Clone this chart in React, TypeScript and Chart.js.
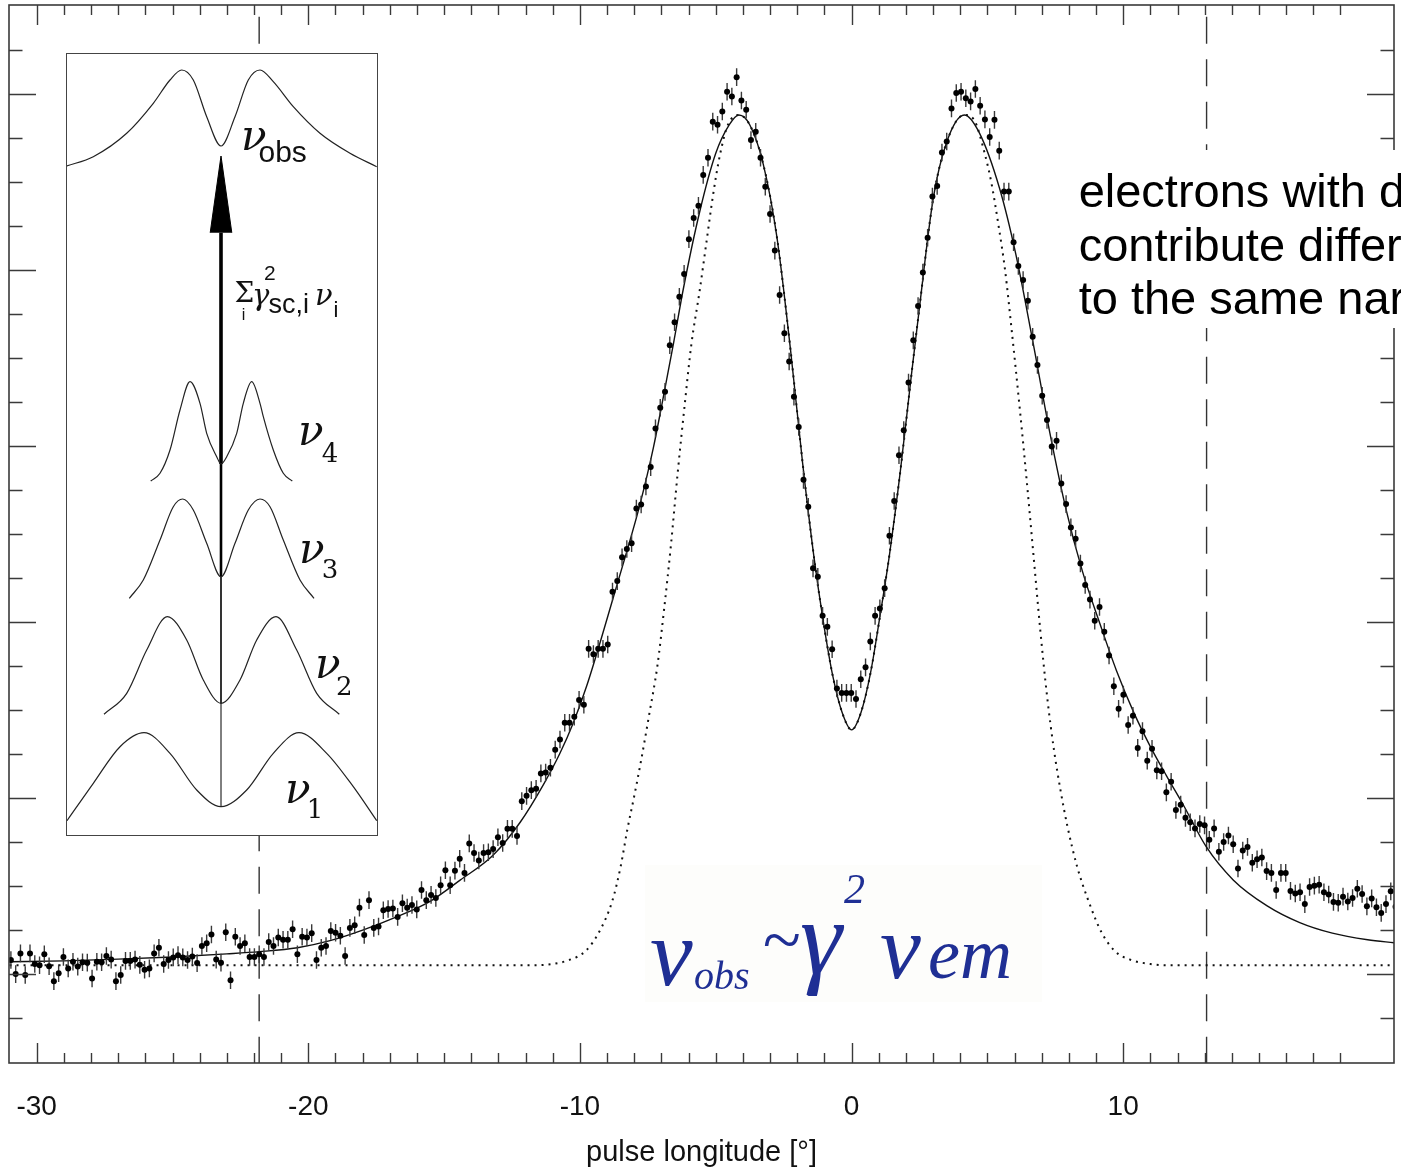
import React, { useEffect, useRef } from 'react';
import { Chart, registerables } from 'chart.js';

Chart.register(...registerables);

// ---------------- main profile (pulse longitude in degrees, arbitrary intensity) ----------------
const LON_START = -30.95; // centre of first phase bin
const LON_STEP = 360 / 2048; // bin width
const INTENSITY = [
  0.32, 0.0, 0.47, -0.02, 0.47, 0.23, 0.2, 0.45, 0.18, -0.16,
  0.02, 0.39, 0.13, 0.28, 0.17, 0.27, 0.26, -0.1, 0.28, 0.27,
  0.41, 0.33, -0.16, -0.02, 0.3, 0.3, 0.33, 0.21, 0.1, 0.13,
  0.47, 0.6, 0.23, 0.32, 0.38, 0.43, 0.38, 0.32, 0.4, 0.25,
  0.64, 0.7, 0.9, 0.33, 0.26, 0.95, -0.14, 0.85, 0.64, 0.7,
  0.39, 0.39, 0.45, 0.39, 0.73, 0.64, 0.83, 0.78, 0.78, 1.02,
  0.45, 0.85, 0.83, 0.93, 0.32, 0.6, 0.64, 0.98, 0.94, 0.87,
  0.41, 1.05, 1.11, 1.51, 0.89, 1.68, 1.05, 1.08, 1.45, 1.48,
  1.49, 1.3, 1.61, 1.51, 1.57, 1.47, 1.91, 1.68, 1.8, 1.73,
  2.02, 2.36, 2.02, 2.35, 2.62, 2.3, 2.97, 2.75, 2.58, 2.75,
  2.77, 2.84, 3.11, 2.98, 3.3, 3.3, 3.14, 3.93, 4.05, 4.18,
  4.21, 4.56, 4.58, 4.69, 5.1, 5.33, 5.71, 5.71, 5.85, 6.23,
  6.12, 7.39, 7.27, 7.39, 7.39, 7.49, 8.69, 8.93, 9.47, 9.66,
  9.79, 10.58, 10.67, 11.08, 11.52, 12.4, 12.87, 13.23, 14.29, 14.81,
  15.39, 15.91, 16.7, 17.18, 17.46, 18.16, 18.55, 19.37, 19.3, 19.6,
  20.05, 19.94, 20.38, 19.85, 19.64, 18.95, 19.14, 18.55, 17.89, 17.27,
  16.44, 15.43, 14.56, 13.92, 13.12, 12.43, 11.23, 10.62, 9.22, 9.03,
  8.14, 7.89, 7.38, 6.49, 6.39, 6.39, 6.39, 6.25, 6.7, 6.97,
  7.56, 8.14, 8.31, 8.77, 9.96, 10.75, 11.79, 12.36, 13.44, 14.4,
  15.18, 15.94, 16.73, 17.67, 17.91, 18.67, 18.92, 19.67, 20.02, 20.05,
  19.9, 19.83, 20.11, 19.73, 19.42, 19.02, 19.41, 18.71, 17.78, 17.78,
  16.63, 16.09, 15.77, 15.3, 14.48, 13.84, 13.14, 12.59, 11.99, 12.12,
  11.15, 10.68, 10.15, 9.89, 9.33, 8.84, 8.51, 8.03, 8.34, 7.78,
  7.24, 6.54, 6.03, 6.35, 5.66, 5.87, 5.14, 5.52, 4.85, 5.12,
  4.63, 4.61, 4.13, 4.37, 3.73, 3.85, 3.55, 3.45, 3.31, 3.41,
  3.38, 3.05, 3.31, 2.78, 3.0, 3.15, 2.95, 2.4, 2.81, 2.89,
  2.53, 2.61, 2.65, 2.34, 2.3, 1.91, 2.3, 2.3, 1.89, 1.83,
  1.86, 1.59, 1.98, 2.01, 2.03, 1.86, 1.81, 1.64, 1.62, 1.76,
  1.65, 1.73, 1.94, 1.82, 1.54, 1.72, 1.52, 1.39, 1.59, 1.88,
  1.53,
];
const ERROR_HALF = 0.2;

// solid fitted profile
const FIT_LON = [
  -31, -29, -27, -25, -23, -21.8, -20.4, -19.2, -18, -16.75,
  -15.5, -14.4, -13.2, -12.2, -11.35, -10.75, -10.25, -9.75, -9.25, -8.8,
  -8.3, -7.8, -7.3, -6.95, -6.55, -6.2, -5.6, -5.0, -4.5, -4.15,
  -3.75, -3.25, -2.75, -2.25, -1.8, -1.4, -1.05, -0.7, -0.35, 0,
  0.35, 0.7, 1.05, 1.4, 1.8, 2.2, 2.5, 3.0, 3.5, 4.15,
  4.7, 5.45, 6.05, 6.65, 7.3, 7.9, 8.5, 9.15, 9.75, 10.4,
  11.0, 11.6, 12.2, 13.05, 14.05, 15.3, 16.5, 17.7, 19.0, 20.0,
];
const FIT_VAL = [
  0.28, 0.3, 0.34, 0.39, 0.46, 0.51, 0.6, 0.76, 1.0, 1.3,
  1.66, 2.14, 2.7, 3.45, 4.3, 5.0, 5.7, 6.55, 7.55, 8.5,
  9.55, 10.65, 11.95, 13.05, 14.35, 15.55, 17.3, 18.65, 19.3, 19.52,
  19.3, 18.4, 16.75, 14.2, 11.6, 9.55, 8.05, 6.8, 5.95, 5.55,
  5.95, 6.85, 8.15, 9.55, 11.45, 13.6, 15.15, 17.6, 18.9, 19.52,
  19.12, 17.85, 16.35, 14.45, 12.3, 10.55, 9.15, 7.95, 6.9, 5.93,
  5.17, 4.5, 3.86, 2.9, 2.14, 1.55, 1.17, 0.93, 0.78, 0.71,
];

// dotted intrinsic profile
const MODEL_LON = [
  -31, -11.8, -11.0, -10.4, -9.8, -9.3, -8.8, -8.5, -8.25, -8.0,
  -7.75, -7.45, -7.15, -6.9, -6.65, -6.4, -6.15, -5.9, -5.6, -5.35,
  -5.1, -4.85, -4.55, -4.15, -3.75, -3.25, -2.75, -2.25, -1.8, -1.4,
  -1.05, -0.7, -0.35, 0, 0.35, 0.7, 1.05, 1.4, 1.8, 2.2,
  2.5, 3.0, 3.5, 4.15, 4.5, 4.9, 5.15, 5.4, 5.65, 5.9,
  6.2, 6.45, 6.7, 6.95, 7.2, 7.45, 7.7, 7.95, 8.3, 8.7,
  9.2, 9.7, 10.3, 11.0, 11.6, 20,
];
const MODEL_VAL = [
  0.2, 0.2, 0.23, 0.32, 0.52, 0.95, 1.68, 2.45, 3.3, 4.05,
  4.85, 5.9, 7.0, 8.3, 9.75, 11.4, 12.9, 14.3, 15.5, 16.6,
  17.7, 18.6, 19.3, 19.52, 19.3, 18.4, 16.75, 14.2, 11.6, 9.55,
  8.05, 6.8, 5.95, 5.55, 5.95, 6.85, 8.15, 9.55, 11.45, 13.6,
  15.15, 17.6, 18.9, 19.52, 19.42, 18.65, 17.97, 17.05, 16.0, 14.6,
  12.8, 11.2, 9.5, 7.8, 6.3, 5.1, 4.15, 3.35, 2.45, 1.7,
  0.95, 0.52, 0.32, 0.23, 0.2, 0.2,
];

const WINDOW_LON = [-21.81, 13.07];
const X_MIN = -31.02;
const X_MAX = 19.97;
const Y_MIN = -2.02;
const Y_MAX = 22.02;
const X_MAJOR = 10;
const Y_MAJOR = 4;
const X_TITLE = 'pulse longitude [°]';

const NOTE_LINES = ['electrons with different', 'contribute differently', 'to the same narrow band'];
const NOTE_AT = [8.36, 17.43];
const HAND_AT = [-7.42, -0.25];
const HAND_PARTS = [
  { t: 'ν', dx: 0, dy: 0, size: 96 },
  { t: 'obs', dx: 44, dy: 4, size: 40 },
  { t: '~', dx: 112, dy: -22, size: 70 },
  { t: 'γ', dx: 150, dy: -12, size: 106 },
  { t: '2', dx: 194, dy: -82, size: 42 },
  { t: 'ν', dx: 230, dy: -7, size: 92 },
  { t: 'em', dx: 278, dy: -7, size: 72 },
];

// ---------------- inset sketch (own schematic units) ----------------
const OBS_X = [-154.8, -128.2, -94.8, -68.2, -51.5, -39.8, -28.2, -14.8, -0.5, 13.5, 26.8, 38.5, 51.8, 71.8, 98.5, 128.5, 155.2];
const OBS_Y = [669, 678.3, 701.7, 731.7, 755, 765, 755, 718.3, 689, 718.3, 755, 765, 753.3, 728.3, 701.7, 681.7, 668.3];
const NU4_X = [-70.8, -61.5, -51.5, -41.5, -31.5, -21.5, -14.8, -4.8, -0.5, 5.2, 15.2, 21.8, 30.2, 38.5, 41.8, 51.8, 61.8, 70.8];
const NU4_Y = [354, 361.7, 385, 425, 453.3, 431.7, 401.7, 378.3, 371, 378.3, 401.7, 431.7, 453.3, 431.7, 418.3, 385, 361.7, 354];
const NU3_X = [-92.2, -78.2, -61.5, -48.2, -38.8, -28.2, -14.8, -0.5, 13.5, 26.8, 38.5, 48.5, 61.8, 78.5, 92.5];
const NU3_Y = [236.7, 255, 295, 328.3, 336, 325, 291.7, 258.3, 291.7, 325, 336, 328.3, 295, 255, 236.7];
const NU2_X = [-117.5, -94.8, -74.8, -54.2, -34.8, -18.2, -0.5, 18.5, 35.2, 54.5, 75.2, 95.2, 117.8];
const NU2_Y = [120.7, 141.7, 185, 218.3, 195, 155, 131.7, 155, 195, 218.3, 185, 141.7, 120.7];
const NU1_X = [-154.5, -128.2, -101.5, -77.5, -51.5, -24.8, -0.5, 25.2, 51.8, 77.5, 105.2, 131.8, 155.2];
const NU1_Y = [14.3, 51.7, 88.3, 102.3, 81.7, 45, 28.3, 45, 81.7, 102.3, 81.7, 48.3, 14.3];
const ARROW_X = -0.5;
const ARROW_STEPS = [28.3, 131.7, 258.3, 371, 602.3];
const ARROW_WIDTHS = [1, 1.6, 2.6, 3.6];
const HEAD_X = [-11.3, -0.5, 10.3];
const HEAD_Y = [602.3, 679, 602.3];
const INSET_X = [-154.5, 155.5];
const INSET_Y = [0, 781];

const SERIF_IT = '"DejaVu Serif", serif';
const SANS = '"Liberation Sans", Arial, sans-serif';
const INSET_LABELS = [
  { t: 'ν', x: 19.5, y: 685, font: `italic 42px ${SERIF_IT}` },
  { t: 'obs', x: 37, y: 673.3, font: `30px ${SANS}` },
  { t: 'ν', x: 76.5, y: 390, font: `italic 42px ${SERIF_IT}` },
  { t: '4', x: 100.2, y: 373.3, font: `26px ${SERIF_IT}` },
  { t: 'ν', x: 77.5, y: 271.7, font: `italic 42px ${SERIF_IT}` },
  { t: '3', x: 100.2, y: 256.7, font: `26px ${SERIF_IT}` },
  { t: 'ν', x: 93.5, y: 156.7, font: `italic 42px ${SERIF_IT}` },
  { t: '2', x: 114.5, y: 140, font: `26px ${SERIF_IT}` },
  { t: 'ν', x: 63.5, y: 31.7, font: `italic 42px ${SERIF_IT}` },
  { t: '1', x: 85.2, y: 16.7, font: `26px ${SERIF_IT}` },
  { t: 'Σ', x: 13, y: 533.3, font: `28px ${SERIF_IT}` },
  { t: 'i', x: 20.2, y: 515, font: `16px ${SANS}` },
  { t: 'γ', x: 30.5, y: 530, font: `italic 29px ${SERIF_IT}` },
  { t: '2', x: 42.5, y: 555, font: `21px ${SANS}` },
  { t: 'sc,i', x: 47, y: 522, font: `27px ${SANS}` },
  { t: 'ν', x: 93.5, y: 530, font: `italic 29px ${SERIF_IT}` },
  { t: 'i', x: 112, y: 518, font: `22px ${SANS}` },
];

const pts = (xs: number[], ys: number[]) => xs.map((v, i) => ({ x: v, y: ys[i] }));
const isInt = (v: number) => Math.abs(v - Math.round(v)) < 1e-6;

function mainConfig(): any {
  const dataPts = INTENSITY.map((v, i) => ({ x: LON_START + i * LON_STEP, y: v }));
  const errSegs: any[] = [];
  dataPts.forEach((p) => {
    errSegs.push({ x: p.x, y: p.y - ERROR_HALF }, { x: p.x, y: p.y + ERROR_HALF }, { x: p.x, y: null });
  });
  const windowLine = (lon: number) => ({
    type: 'line',
    data: [{ x: lon, y: Y_MAX }, { x: lon, y: Y_MIN }],
    borderColor: '#333',
    borderWidth: 1.4,
    borderDash: [27, 15.5],
    borderDashOffset: 30.8,
    pointRadius: 0,
    fill: false,
    order: 4,
  });

  const framePlugin = {
    id: 'frame',
    beforeDatasetsDraw(chart: any) {
      const { ctx, scales } = chart;
      const ax = scales.x.getPixelForValue(HAND_AT[0]);
      const ay = scales.y.getPixelForValue(HAND_AT[1]);
      ctx.save();
      ctx.fillStyle = '#fdfdfb';
      ctx.fillRect(ax - 5, ay - 120, 397, 137);
      ctx.restore();
    },
    afterDatasetsDraw(chart: any) {
      const { ctx, chartArea: a, scales } = chart;
      const x = scales.x;
      const y = scales.y;
      ctx.save();
      const xt: number[] = x.ticks.map((t: any) => t.value).filter(isInt);
      const yt: number[] = y.ticks.map((t: any) => t.value).filter(isInt);
      ctx.strokeStyle = '#3a3a3a';
      ctx.lineWidth = 1.4;
      ctx.beginPath();
      xt.forEach((v) => {
        const px = Math.round(x.getPixelForValue(v)) + 0.5;
        if (px < a.left + 3 || px > a.right - 3) return;
        const len = Math.round(v) % X_MAJOR === 0 ? 20 : 10;
        ctx.moveTo(px, a.bottom);
        ctx.lineTo(px, a.bottom - len);
        ctx.moveTo(px, a.top);
        ctx.lineTo(px, a.top + len);
      });
      yt.forEach((v) => {
        const py = Math.round(y.getPixelForValue(v)) + 0.5;
        if (py < a.top + 3 || py > a.bottom - 3) return;
        const len = Math.round(v) % Y_MAJOR === 0 ? 27 : 13.5;
        ctx.moveTo(a.left, py);
        ctx.lineTo(a.left + len, py);
        ctx.moveTo(a.right, py);
        ctx.lineTo(a.right - len, py);
      });
      ctx.stroke();
      ctx.lineWidth = 1.6;
      ctx.strokeRect(a.left, a.top, a.right - a.left, a.bottom - a.top);

      ctx.fillStyle = '#111';
      ctx.font = `28px ${SANS}`;
      ctx.textAlign = 'center';
      ctx.textBaseline = 'alphabetic';
      xt.filter((v) => Math.round(v) % X_MAJOR === 0).forEach((v) => {
        const px = x.getPixelForValue(v);
        if (px < a.left || px > a.right) return;
        ctx.fillText(String(Math.round(v)), px, a.bottom + 52);
      });
      ctx.font = `29px ${SANS}`;
      ctx.fillText(X_TITLE, (a.left + a.right) / 2, a.bottom + 98);

      // explanatory note (white box hides what lies beneath)
      const nx = x.getPixelForValue(NOTE_AT[0]);
      const ny = y.getPixelForValue(NOTE_AT[1]);
      ctx.fillStyle = '#fff';
      ctx.fillRect(nx - 11, ny - 57, chart.width - nx + 11, 178);
      ctx.fillStyle = '#000';
      ctx.font = `47px ${SANS}`;
      ctx.textAlign = 'left';
      NOTE_LINES.forEach((s, i) => ctx.fillText(s, nx, ny + i * 53.5));

      // handwritten relation
      const hx = x.getPixelForValue(HAND_AT[0]);
      const hy = y.getPixelForValue(HAND_AT[1]);
      ctx.fillStyle = '#1f2f94';
      HAND_PARTS.forEach((p) => {
        ctx.font = `italic ${p.size}px "Liberation Serif", serif`;
        ctx.fillText(p.t, hx + p.dx, hy + p.dy);
      });
      ctx.restore();
    },
  };

  return {
    type: 'scatter',
    data: {
      datasets: [
        {
          label: 'data',
          data: dataPts,
          pointRadius: 3,
          pointBackgroundColor: '#000',
          pointBorderWidth: 0,
          showLine: false,
          order: 0,
        },
        {
          type: 'line',
          label: 'errors',
          data: errSegs,
          borderColor: '#3a3a3a',
          borderWidth: 1.4,
          pointRadius: 0,
          spanGaps: false,
          fill: false,
          order: 1,
        },
        {
          type: 'line',
          label: 'fit',
          data: pts(FIT_LON, FIT_VAL),
          borderColor: '#111',
          borderWidth: 1.4,
          pointRadius: 0,
          fill: false,
          cubicInterpolationMode: 'monotone',
          order: 2,
        },
        {
          type: 'line',
          label: 'model',
          data: pts(MODEL_LON, MODEL_VAL),
          borderColor: '#111',
          borderWidth: 2,
          borderDash: [2, 5],
          pointRadius: 0,
          fill: false,
          cubicInterpolationMode: 'monotone',
          order: 3,
        },
        windowLine(WINDOW_LON[0]),
        windowLine(WINDOW_LON[1]),
      ],
    },
    options: {
      animation: false,
      responsive: false,
      devicePixelRatio: 1,
      events: [],
      layout: { padding: { left: 9, top: 5, right: 7, bottom: 106 } },
      plugins: { legend: { display: false }, tooltip: { enabled: false } },
      scales: {
        x: {
          type: 'linear',
          min: X_MIN,
          max: X_MAX,
          display: false,
          ticks: { stepSize: 1, maxTicksLimit: 1000, autoSkip: false },
        },
        y: {
          type: 'linear',
          min: Y_MIN,
          max: Y_MAX,
          display: false,
          ticks: { stepSize: 1, maxTicksLimit: 1000, autoSkip: false },
        },
      },
    },
    plugins: [framePlugin],
  };
}

function insetConfig(): any {
  const curve = (xs: number[], ys: number[]) => ({
    type: 'line',
    data: pts(xs, ys),
    borderColor: '#222',
    borderWidth: 1.2,
    pointRadius: 0,
    fill: false,
    cubicInterpolationMode: 'monotone',
  });
  const shaft = ARROW_WIDTHS.map((w, k) => ({
    type: 'line',
    data: [{ x: ARROW_X, y: ARROW_STEPS[k] }, { x: ARROW_X, y: ARROW_STEPS[k + 1] }],
    borderColor: '#000',
    borderWidth: w,
    pointRadius: 0,
    fill: false,
  }));
  const head = {
    type: 'line',
    data: pts(HEAD_X, HEAD_Y),
    borderColor: '#000',
    backgroundColor: '#000',
    borderWidth: 1,
    pointRadius: 0,
    fill: 'shape',
    tension: 0,
  };
  const labelPlugin = {
    id: 'insetLabels',
    afterDatasetsDraw(chart: any) {
      const { ctx, scales } = chart;
      ctx.save();
      ctx.fillStyle = '#111';
      ctx.textAlign = 'left';
      ctx.textBaseline = 'alphabetic';
      INSET_LABELS.forEach((l) => {
        ctx.font = l.font;
        ctx.fillText(l.t, scales.x.getPixelForValue(l.x), scales.y.getPixelForValue(l.y));
      });
      ctx.restore();
    },
  };
  return {
    type: 'scatter',
    data: {
      datasets: [
        curve(OBS_X, OBS_Y),
        curve(NU4_X, NU4_Y),
        curve(NU3_X, NU3_Y),
        curve(NU2_X, NU2_Y),
        curve(NU1_X, NU1_Y),
        ...shaft,
        head,
      ],
    },
    options: {
      animation: false,
      responsive: false,
      devicePixelRatio: 1,
      events: [],
      layout: { padding: 0 },
      plugins: { legend: { display: false }, tooltip: { enabled: false } },
      scales: {
        x: { type: 'linear', min: INSET_X[0], max: INSET_X[1], display: false },
        y: { type: 'linear', min: INSET_Y[0], max: INSET_Y[1], display: false },
      },
    },
    plugins: [labelPlugin],
  };
}

export default function App() {
  const mainRef = useRef<HTMLCanvasElement>(null);
  const insetRef = useRef<HTMLCanvasElement>(null);

  useEffect(() => {
    const main = new Chart(mainRef.current as HTMLCanvasElement, mainConfig());
    const inset = new Chart(insetRef.current as HTMLCanvasElement, insetConfig());
    return () => {
      main.destroy();
      inset.destroy();
    };
  }, []);

  return (
    <div style={{ position: 'absolute', left: 0, top: 0, width: 1401, height: 1169, background: '#fff', overflow: 'hidden' }}>
      <canvas
        ref={mainRef}
        width={1401}
        height={1169}
        style={{ position: 'absolute', left: 0, top: 0, width: 1401, height: 1169 }}
      />
      <div
        style={{
          position: 'absolute',
          left: 66,
          top: 53,
          width: 310,
          height: 781,
          border: '1px solid #444',
          background: '#fff',
        }}
      >
        <canvas ref={insetRef} width={310} height={781} style={{ display: 'block', width: 310, height: 781 }} />
      </div>
    </div>
  );
}
